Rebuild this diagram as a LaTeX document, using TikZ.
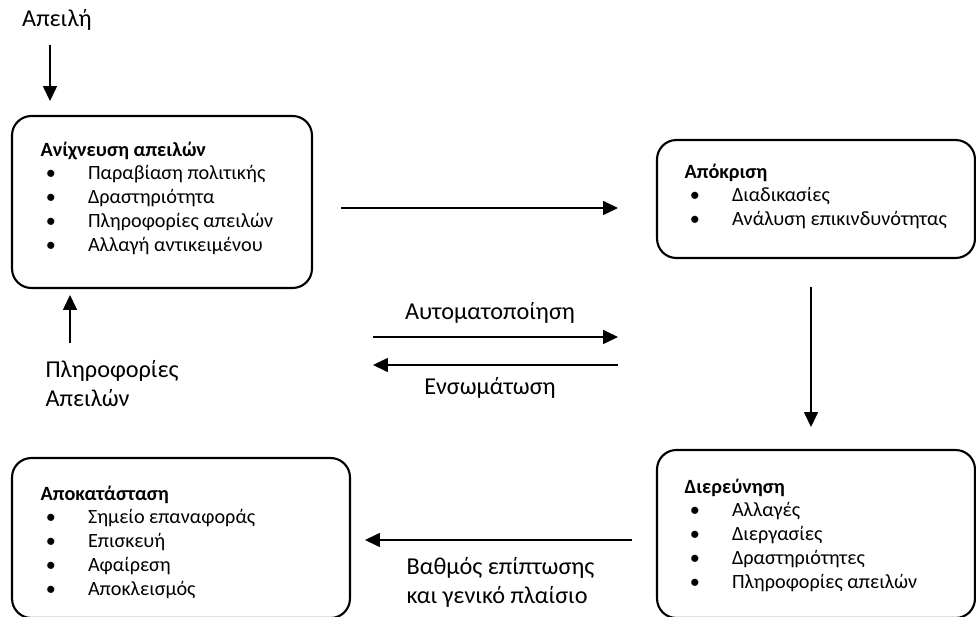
\documentclass[tikz,border=0pt]{standalone}
\usepackage{fontspec}
\setmainfont{Carlito}
\usetikzlibrary{arrows.meta}
\newcommand{\itm}[1]{\\\makebox[27pt][l]{\hspace{3pt}\textbullet}#1}
\begin{document}
\begin{tikzpicture}[x=0.02cm, y=-0.02cm, line width=0.7pt, >={Triangle[length=8.5pt,width=8pt]},
  stage node/.style={draw,rounded corners=11pt,line width=1.2pt,inner sep=0pt},
  list node/.style={anchor=north west,align=left,inner sep=0pt,font=\fontsize{11.5}{13.6}\selectfont},
  label node/.style={align=left,inner sep=0pt,font=\fontsize{13.8}{16.5}\selectfont}]
\useasboundingbox (0,0) rectangle (976,617);
% the four stages
\node [stage node, minimum width=6cm, minimum height=3.44cm](detect) at (162,202) {};
\node [stage node, minimum width=6.36cm, minimum height=2.36cm](respond) at (816,199) {};
\node [stage node, minimum width=6.36cm, minimum height=3.36cm](investigate) at (816,534) {};
\node [stage node, minimum width=6.76cm, minimum height=3.2cm](recover) at (181,538) {};
\begin{scope}[every node/.style={list node}]
\node (detect list) at (40,141) {\textbf{Ανίχνευση απειλών}\itm{Παραβίαση πολιτικής}\itm{Δραστηριότητα}\itm{Πληροφορίες απειλών}\itm{Αλλαγή αντικειμένου}};
\node (respond list) at (684,163) {\textbf{Απόκριση}\itm{Διαδικασίες}\itm{Ανάλυση επικινδυνότητας}};
\node (investigate list) at (684,478) {\textbf{Διερεύνηση}\itm{Αλλαγές}\itm{Διεργασίες}\itm{Δραστηριότητες}\itm{Πληροφορίες απειλών}};
\node (recover list) at (40,485) {\textbf{Αποκατάσταση}\itm{Σημείο επαναφοράς}\itm{Επισκευή}\itm{Αφαίρεση}\itm{Αποκλεισμός}};
\end{scope}
\begin{scope}[every node/.style={label node}]
\node (threat) at (57,20) {Απειλή};
\node (auto) at (490,313) {Αυτοματοποίηση};
\node (integr) at (490,388) {Ενσωμάτωση};
\node [anchor=west](info) at (45,384) {Πληροφορίες\\Απειλών};
\node [anchor=west](impact) at (406,582) {Βαθμός επίπτωσης\\και γενικό πλαίσιο};
\end{scope}
% free arrow ends
\coordinate (threat a) at (50,45);   \coordinate (threat b) at (50,101);
\coordinate (info a) at (70,343);    \coordinate (info b) at (70,295);
\coordinate (flow a) at (341,208);   \coordinate (flow b) at (618,208);
\coordinate (auto a) at (373,337);   \coordinate (auto b) at (618,337);
\coordinate (integr a) at (618,365); \coordinate (integr b) at (373,365);
\coordinate (down a) at (811,287);   \coordinate (down b) at (811,427);
\coordinate (impact a) at (632,540); \coordinate (impact b) at (365,540);
\path [->]
    (threat a) edge (threat b)
    (info a) edge (info b)
    (flow a) edge (flow b)
    (auto a) edge (auto b)
    (integr a) edge (integr b)
    (down a) edge (down b)
    (impact a) edge (impact b)
    ;
\end{tikzpicture}
\end{document}
